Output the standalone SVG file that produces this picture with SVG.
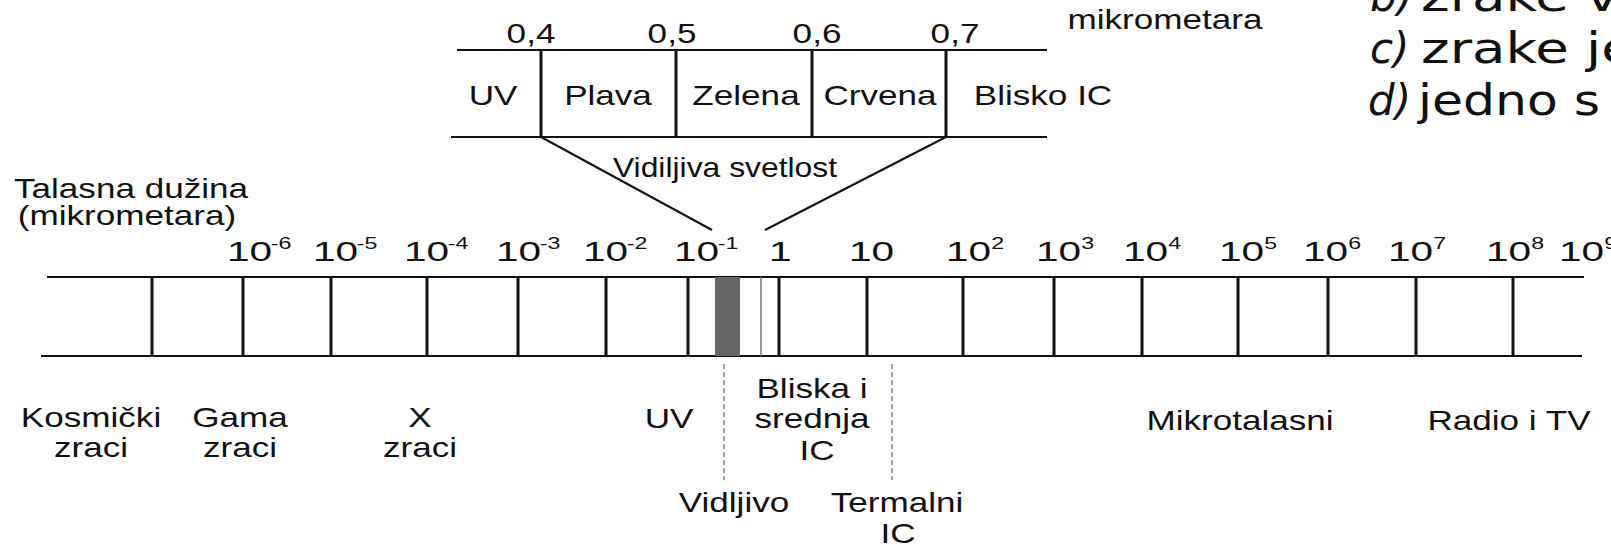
<svg xmlns="http://www.w3.org/2000/svg" width="1611" height="545" viewBox="0 0 1611 545">
  <defs>
    <style>
      .t { font-family: "Liberation Sans", Arial, sans-serif; font-size: 27px; fill: #111; text-anchor: middle; }
      .n { font-size: 28px; text-anchor: start; }
      .sup { font-size: 16px; }
      .q { font-family: "DejaVu Sans", Verdana, sans-serif; font-size: 42px; fill: #111; }
      .i { font-style: italic; }
      .h { stroke: #111; stroke-width: 2; fill: none; }
      .v { stroke: #111; stroke-width: 3; }
      .dash { stroke: #888; stroke-width: 1.5; stroke-dasharray: 5 3; fill: none; }
    </style>
  </defs>
  <rect width="1611" height="545" fill="#fff"/>

  <!-- visible-light detail box -->
  <g id="visible-box">
    <line class="h" x1="457" y1="50" x2="1047" y2="50"/>
    <line class="h" x1="451" y1="137" x2="1047" y2="137"/>
    <line class="v" x1="541" y1="50" x2="541" y2="137"/>
    <line class="v" x1="676" y1="50" x2="676" y2="137"/>
    <line class="v" x1="812" y1="50" x2="812" y2="137"/>
    <line class="v" x1="946" y1="50" x2="946" y2="137"/>
    <text class="t" transform="translate(531,43) scale(1.3,1)">0,4</text>
    <text class="t" transform="translate(672,43) scale(1.3,1)">0,5</text>
    <text class="t" transform="translate(817,43) scale(1.3,1)">0,6</text>
    <text class="t" transform="translate(955,43) scale(1.3,1)">0,7</text>
    <text class="t" transform="translate(1165,29) scale(1.3,1)">mikrometara</text>
    <text class="t" transform="translate(493,105) scale(1.3,1)">UV</text>
    <text class="t" transform="translate(608,105) scale(1.3,1)">Plava</text>
    <text class="t" transform="translate(746,105) scale(1.3,1)">Zelena</text>
    <text class="t" transform="translate(880,105) scale(1.3,1)">Crvena</text>
    <text class="t" transform="translate(1043,105) scale(1.3,1)">Blisko IC</text>
    <text class="t" transform="translate(725,177) scale(1.18,1)">Vidiljiva svetlost</text>
  </g>

  <!-- axis caption -->
  <g id="axis-caption">
    <text class="t" transform="translate(131,198) scale(1.3,1)">Talasna dužina</text>
    <text class="t" transform="translate(127,225) scale(1.3,1)">(mikrometara)</text>
  </g>

  <!-- main wavelength band -->
  <g id="spectrum-band">
    <line class="h" x1="47" y1="277" x2="1584" y2="277"/>
    <line class="h" x1="41" y1="356" x2="1582" y2="356"/>
    <rect x="715" y="277" width="25" height="79" fill="#666"/>
    <line x1="761" y1="277" x2="761" y2="356" stroke="#777" stroke-width="1.5"/>
    <g class="v">
      <line x1="152" y1="277" x2="152" y2="356"/>
      <line x1="243" y1="277" x2="243" y2="356"/>
      <line x1="331" y1="277" x2="331" y2="356"/>
      <line x1="427" y1="277" x2="427" y2="356"/>
      <line x1="518" y1="277" x2="518" y2="356"/>
      <line x1="606" y1="277" x2="606" y2="356"/>
      <line x1="688" y1="277" x2="688" y2="356"/>
      <line x1="779" y1="277" x2="779" y2="356"/>
      <line x1="867" y1="277" x2="867" y2="356"/>
      <line x1="963" y1="277" x2="963" y2="356"/>
      <line x1="1054" y1="277" x2="1054" y2="356"/>
      <line x1="1142" y1="277" x2="1142" y2="356"/>
      <line x1="1238" y1="277" x2="1238" y2="356"/>
      <line x1="1328" y1="277" x2="1328" y2="356"/>
      <line x1="1416" y1="277" x2="1416" y2="356"/>
      <line x1="1513" y1="277" x2="1513" y2="356"/>
    </g>
  </g>

  <!-- scale values -->
  <g id="scale-values">
    <text class="t n" transform="translate(227,261) scale(1.45,1)">10<tspan class="sup" dx="-1" dy="-12">-6</tspan></text>
    <text class="t n" transform="translate(313,261) scale(1.45,1)">10<tspan class="sup" dx="-1" dy="-12">-5</tspan></text>
    <text class="t n" transform="translate(404,261) scale(1.45,1)">10<tspan class="sup" dx="-1" dy="-12">-4</tspan></text>
    <text class="t n" transform="translate(496,261) scale(1.45,1)">10<tspan class="sup" dx="-1" dy="-12">-3</tspan></text>
    <text class="t n" transform="translate(583,261) scale(1.45,1)">10<tspan class="sup" dx="-1" dy="-12">-2</tspan></text>
    <text class="t n" transform="translate(674,261) scale(1.45,1)">10<tspan class="sup" dx="-1" dy="-12">-1</tspan></text>
    <text class="t n" transform="translate(769,261) scale(1.45,1)">1</text>
    <text class="t n" transform="translate(849,261) scale(1.45,1)">10</text>
    <text class="t n" transform="translate(946,261) scale(1.45,1)">10<tspan class="sup" dy="-12">2</tspan></text>
    <text class="t n" transform="translate(1036,261) scale(1.45,1)">10<tspan class="sup" dy="-12">3</tspan></text>
    <text class="t n" transform="translate(1123,261) scale(1.45,1)">10<tspan class="sup" dy="-12">4</tspan></text>
    <text class="t n" transform="translate(1219,261) scale(1.45,1)">10<tspan class="sup" dy="-12">5</tspan></text>
    <text class="t n" transform="translate(1303,261) scale(1.45,1)">10<tspan class="sup" dy="-12">6</tspan></text>
    <text class="t n" transform="translate(1388,261) scale(1.45,1)">10<tspan class="sup" dy="-12">7</tspan></text>
    <text class="t n" transform="translate(1486,261) scale(1.45,1)">10<tspan class="sup" dy="-12">8</tspan></text>
    <text class="t n" transform="translate(1559,261) scale(1.45,1)">10<tspan class="sup" dy="-12">9</tspan></text>
  </g>

  <!-- region names -->
  <g id="region-cosmic">
    <text class="t" transform="translate(91,427) scale(1.3,1)">Kosmički</text>
    <text class="t" transform="translate(91,457) scale(1.3,1)">zraci</text>
  </g>
  <g id="region-gamma">
    <text class="t" transform="translate(240,427) scale(1.3,1)">Gama</text>
    <text class="t" transform="translate(240,457) scale(1.3,1)">zraci</text>
  </g>
  <g id="region-x">
    <text class="t" transform="translate(420,427) scale(1.3,1)">X</text>
    <text class="t" transform="translate(420,457) scale(1.3,1)">zraci</text>
  </g>
  <g id="region-uv">
    <text class="t" transform="translate(669,428) scale(1.3,1)">UV</text>
  </g>
  <g id="region-near-ir">
    <text class="t" transform="translate(812,398) scale(1.3,1)">Bliska i</text>
    <text class="t" transform="translate(812,428) scale(1.3,1)">srednja</text>
    <text class="t" transform="translate(817,460) scale(1.3,1)">IC</text>
  </g>
  <g id="region-visible">
    <text class="t" transform="translate(734,512) scale(1.3,1)">Vidljivo</text>
  </g>
  <g id="region-thermal">
    <text class="t" transform="translate(897,512) scale(1.3,1)">Termalni</text>
    <text class="t" transform="translate(898,543) scale(1.3,1)">IC</text>
  </g>
  <g id="region-microwave">
    <text class="t" transform="translate(1240,430) scale(1.3,1)">Mikrotalasni</text>
  </g>
  <g id="region-radio">
    <text class="t" transform="translate(1509,430) scale(1.3,1)">Radio i TV</text>
  </g>

  <!-- answer options beside the figure -->
  <g id="options">
    <text class="q i" x="1370" y="11">b)</text>
    <text class="q" transform="translate(1421,11) scale(1.3,1)">zrake v</text>
    <text class="q i" x="1370" y="63">c)</text>
    <text class="q" transform="translate(1421,63) scale(1.3,1)">zrake je</text>
    <text class="q i" x="1368" y="115">d)</text>
    <text class="q" transform="translate(1418,115) scale(1.2,1)">jedno s</text>
  </g>

  <!-- connectors -->
  <g id="connectors">
    <line class="h" x1="541" y1="137" x2="712" y2="230"/>
    <line class="h" x1="946" y1="137" x2="765" y2="230"/>
    <line class="dash" x1="724" y1="364" x2="724" y2="480"/>
    <line class="dash" x1="892" y1="364" x2="892" y2="480"/>
  </g>
</svg>
